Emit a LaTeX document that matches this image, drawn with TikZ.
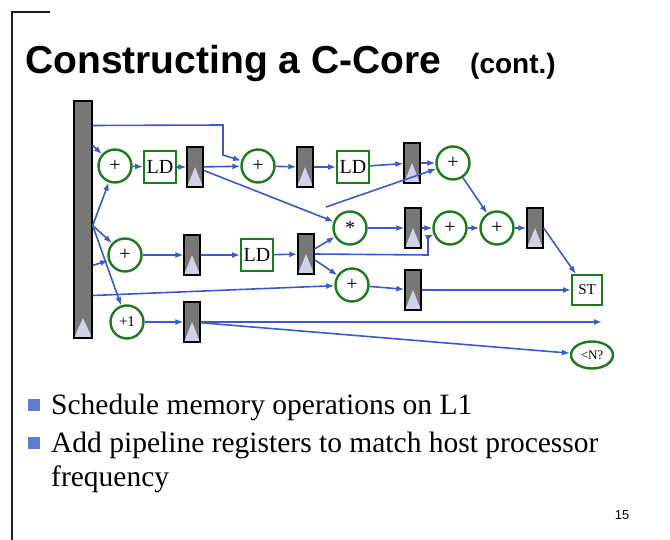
\documentclass[tikz,border=0pt]{standalone}
\usepackage{fontspec}
\setmainfont{Liberation Serif}
\setsansfont{Liberation Sans}
\usetikzlibrary{positioning,shapes.geometric,arrows.meta}
\definecolor{wire}{HTML}{3A5BC7}
\definecolor{opgreen}{HTML}{1E7A1E}
\definecolor{navy}{HTML}{1A1A4A}
\definecolor{trifill}{HTML}{D2D2E6}
\definecolor{regfill}{HTML}{777777}

\begin{document}
\begin{tikzpicture}[x=1pt,y=-1pt,
	every node/.style={font=\fontsize{20}{20}\selectfont},
	reg/.style={draw=black,fill=regfill,line width=1.3pt,minimum width=16pt,minimum height=40pt,inner sep=0pt,
		path picture={\fill[trifill] (path picture bounding box.south west) -- (path picture bounding box.south east)
			-- ([yshift=20pt]path picture bounding box.south) -- cycle;}},
	op/.style={circle,draw=opgreen,line width=2.4pt,fill=white,minimum size=33pt,inner sep=0pt},
	mem/.style={draw=opgreen,line width=2pt,fill=white,minimum width=32pt,minimum height=32pt,inner sep=1pt},
	wr/.style={draw=wire,line width=1.6pt,-{Latex[length=8pt,width=6pt]}}]

\useasboundingbox (0,0) rectangle (670,540);
\draw[navy,line width=2pt] (50,12) -- (12,12) -- (12,540);

% Title
\node[anchor=base west,inner sep=0pt,font=\sffamily\bfseries\fontsize{39}{39}\selectfont] (title) at (25,74) {Constructing a C-Core};
\node[anchor=base west,inner sep=0pt,font=\sffamily\bfseries\fontsize{28}{28}\selectfont] (cont) at (470,74) {(cont.)};

% Registers
\node[reg,minimum width=18pt,minimum height=237pt] (big) at (83,219.5) {};
\node[reg] (r1) at (195,167) {};
\node[reg] (r2) at (305,167) {};
\node[reg] (r3) at (412,163) {};
\node[reg] (r4) at (192,255) {};
\node[reg] (r5) at (306,254) {};
\node[reg] (r6) at (413,228) {};
\node[reg] (r7) at (413,290) {};
\node[reg] (r8) at (535,228) {};
\node[reg] (r9) at (192,322) {};

% Operators
\node[op] (add1) at (115,166) {+};
\node[mem] (ld1) at (160,167) {LD};
\node[op] (add2) at (258,166) {+};
\node[mem] (ld2) at (353,167) {LD};
\node[op] (add3) at (453,163) {+};
\node[op] (mul) at (350,228) {*};
\node[op] (add4) at (450,228) {+};
\node[op] (add5) at (497,228) {+};
\node[op] (add6) at (125,255) {+};
\node[mem] (ld3) at (257,255) {LD};
\node[op] (add7) at (352,285) {+};
\node[mem,font=\fontsize{15}{15}\selectfont,minimum width=30pt,minimum height=30pt] (st) at (587,290) {ST};
\node[op,font=\fontsize{15}{15}\selectfont] (inc) at (127,322) {+1};
\node[ellipse,draw=opgreen,line width=2.4pt,minimum width=42pt,minimum height=27pt,inner sep=0pt,font=\fontsize{13}{13}\selectfont] (cmp) at (592,355) {<N?};
\coordinate (out) at (602,322);
\coordinate (fork) at (326,207);

% Wires
\draw[wr] ([yshift=94pt]big.east) -- (223,125) -- (223,155) -- (add2);
\draw[wr] ([yshift=74pt]big.east) -- (add1);
\draw[wr] ([yshift=-6pt]big.east) -- (add1);
\draw[wr] ([yshift=-6pt]big.east) -- (add6);
\draw[wr] ([yshift=-6pt]big.east) -- (inc);
\draw[wr] ([yshift=-46pt]big.east) -- (add6);
\draw[wr] ([yshift=-76pt]big.east) -- (add7);
\draw[wr] (add1) -- (ld1);
\draw[wr] (ld1) -- (r1);
\draw[wr] (r1) -- (add2);
\draw[wr] (add2) -- (r2);
\draw[wr] (r2) -- (ld2);
\draw[wr] (ld2) -- (r3);
\draw[wr] (r3) -- (add3);
\draw[wr] (r1) -- (mul);
\draw[wr] (fork) -- (add3);
\draw[wr] (add6) -- (r4);
\draw[wr] (r4) -- (ld3);
\draw[wr] (ld3) -- (r5);
\draw[wr] (r5) -- (mul);
\draw[wr] (r5) -- (add7);
\draw[wr] (r5.east) -- (428,255) -- (428,237) -- (add4);
\draw[wr] (mul) -- (r6);
\draw[wr] (r6) -- (add4);
\draw[wr] (add4) -- (add5);
\draw[wr] (add3) -- (add5);
\draw[wr] (add5) -- (r8);
\draw[wr] (r8.east) -- (st);
\draw[wr] (add7) -- (r7);
\draw[wr] (r7) -- (st);
\draw[wr] (inc) -- (r9);
\draw[wr] (r9) -- (out);
\draw[wr] (r9) -- (cmp);

% Bullets
\foreach \y/\t in {405/Schedule memory operations on L1, 443/Add pipeline registers to match host processor}
	\node[anchor=base west,inner sep=0pt,font=\fontsize{29.5}{29.5}\selectfont] at (51,\y+9) {\t};
\foreach \y in {405,443}
	\fill[wire!80!white] (28,\y-6) rectangle (40,\y+6);
\node[anchor=base west,inner sep=0pt,font=\fontsize{29.5}{29.5}\selectfont] (freq) at (51,486) {frequency};
\node[font=\sffamily\fontsize{13}{13}\selectfont] (page) at (622,515) {15};
\end{tikzpicture}
\end{document}
